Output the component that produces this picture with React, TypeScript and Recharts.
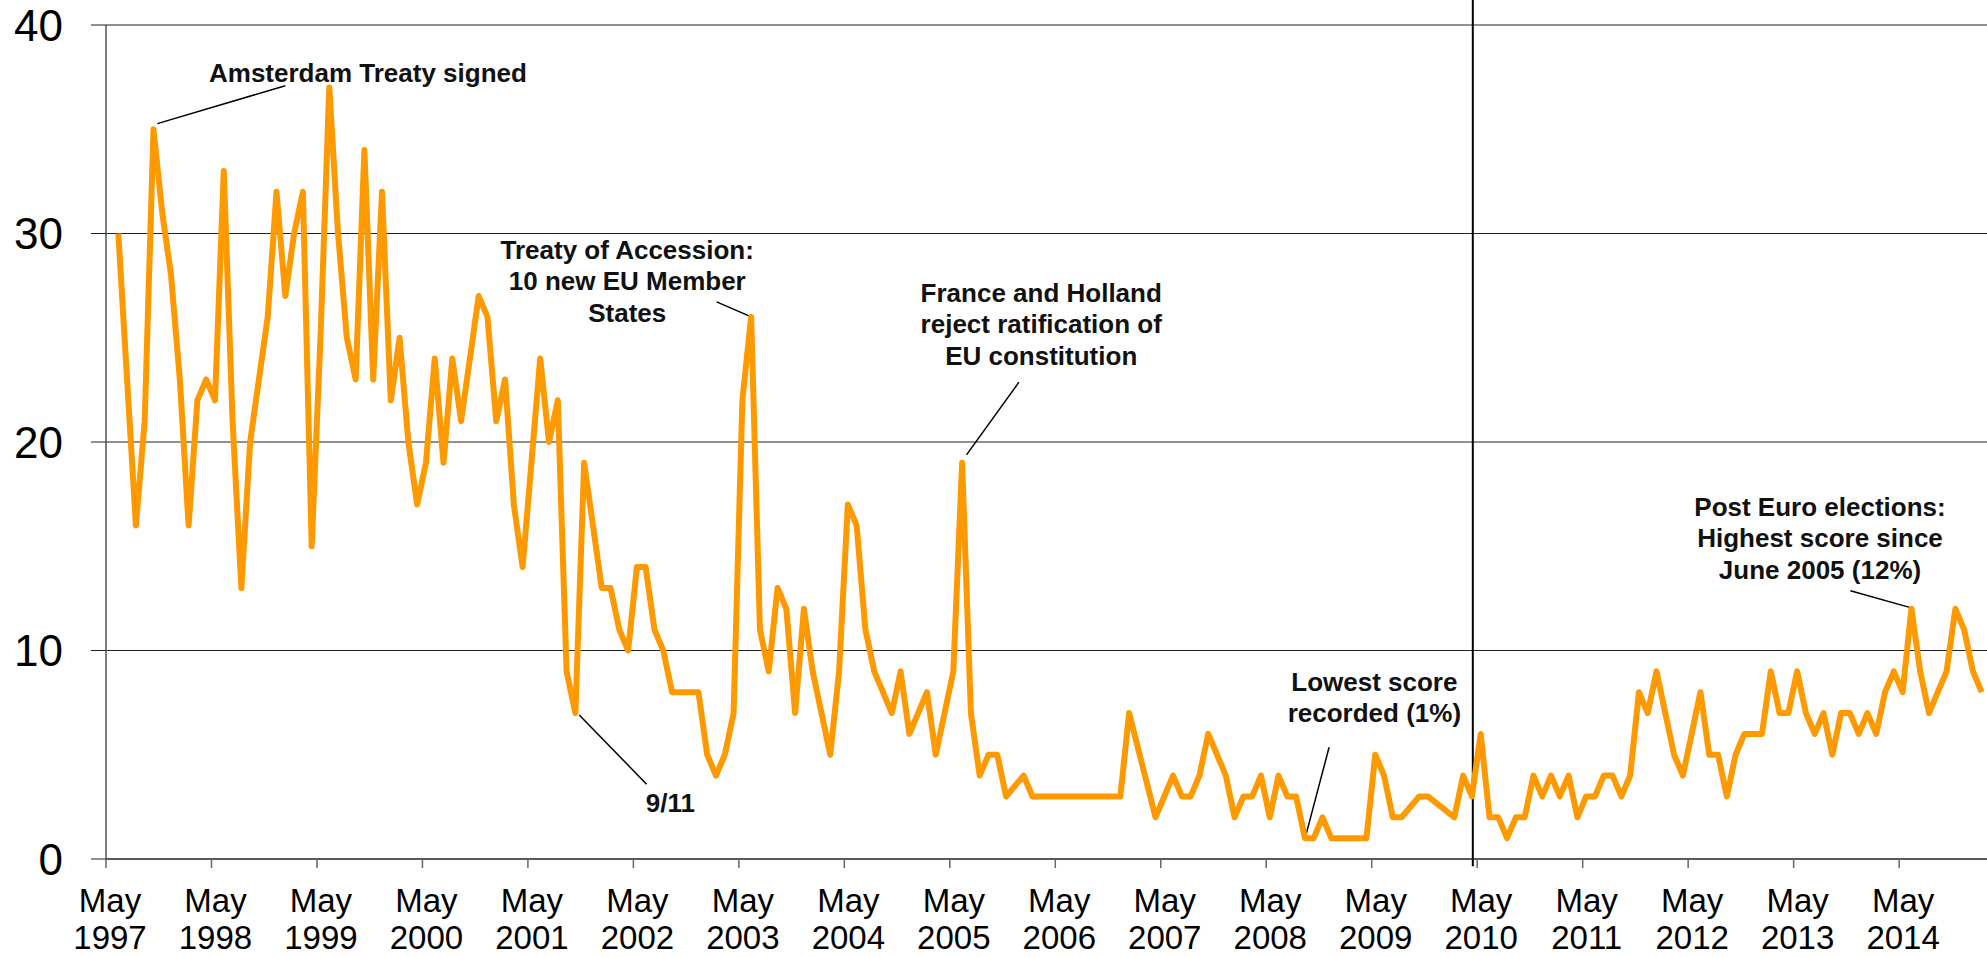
import React from 'react';
import { LineChart, Line, XAxis, YAxis, CartesianGrid, ReferenceLine, ReferenceDot } from 'recharts';

// % naming Europe / the EU as an important issue, one reading a month
// from Jun 1997 to Feb 2015. null = no reading that month, the line joins across.
const SCORES = [
  30, 23, 16, 21, 35, 31, 28, 23, 16, 22, 23, 22, // Jun 97 - May 98
  33, 21, 13, 20, 23, 26, 32, 27, 30, 32, 15, 25, // Jun 98 - May 99
  37, 30, 25, 23, 34, 23, 32, 22, 25, 20, 17, 19, // Jun 99 - May 00
  24, 19, 24, 21, 24, 27, 26, 21, 23, 17, 14, 19, // Jun 00 - May 01
  24, 20, 22, 9, 7, 19, 16, 13, 13, 11, 10, 14, // Jun 01 - May 02
  14, 11, 10, 8, 8, 8, 8, 5, 4, 5, 7, 22, // Jun 02 - May 03
  26, 11, 9, 13, 12, 7, 12, 9, 7, 5, 9, 17, // Jun 03 - May 04
  16, 11, 9, 8, 7, 9, 6, 7, 8, 5, 7, 9, // Jun 04 - May 05
  19, 7, 4, 5, 5, 3, null, 4, 3, 3, 3, 3, // Jun 05 - May 06
  3, 3, 3, 3, 3, 3, 3, 7, null, null, 2, 3, // Jun 06 - May 07
  4, 3, 3, 4, 6, 5, 4, 2, 3, 3, 4, 2, // Jun 07 - May 08
  4, 3, 3, 1, 1, 2, 1, 1, 1, 1, 1, 5, // Jun 08 - May 09
  4, 2, 2, null, 3, 3, null, null, 2, 4, 3, 6, // Jun 09 - May 10
  2, 2, 1, 2, 2, 4, 3, 4, 3, 4, 2, 3, // Jun 10 - May 11
  3, 4, 4, 3, 4, 8, 7, 9, 7, 5, 4, 6, // Jun 11 - May 12
  8, 5, 5, 3, 5, 6, 6, 6, 9, 7, 7, 9, // Jun 12 - May 13
  7, 6, 7, 5, 7, 7, 6, 7, 6, 8, 9, 8, // Jun 13 - May 14
  12, 9, 7, 8, 9, 12, 11, 9, 8, // Jun 14 - Feb 15
];

const TICK_YEARS = [1997, 1998, 1999, 2000, 2001, 2002, 2003, 2004, 2005, 2006, 2007, 2008, 2009, 2010, 2011, 2012, 2013, 2014];
const Y_TICKS = [0, 10, 20, 30, 40];

// x is counted in months from May 1997; fieldwork sits ~mid month
const FIRST_MONTH = 1;
const FIELDWORK = 0.4;
const METHOD_BREAK = 155.5; // between Apr and May 2010

const NOTES = [
  { lines: ['Amsterdam Treaty signed'], m: 29.8, v: 37.27 },
  { lines: ['Treaty of Accession:', '10 new EU Member', 'States'], m: 59.3, v: 28.8 },
  { lines: ['France and Holland', 'reject ratification of', 'EU constitution'], m: 106.4, v: 26.73 },
  { lines: ['9/11'], m: 64.2, v: 2.27 },
  { lines: ['Lowest score', 'recorded (1%)'], m: 144.3, v: 8.08 },
  { lines: ['Post Euro elections:', 'Highest score since', 'June 2005 (12%)'], m: 195.0, v: 16.47 },
];

const LEADERS = [
  [{ x: 5.84, y: 35.27 }, { x: 20.4, y: 37.09 }],
  [{ x: 69.47, y: 26.72 }, { x: 73.48, y: 25.99 }],
  [{ x: 97.9, y: 19.38 }, { x: 103.86, y: 22.87 }],
  [{ x: 53.84, y: 6.91 }, { x: 61.5, y: 3.59 }],
  [{ x: 136.5, y: 1.12 }, { x: 139.15, y: 5.36 }],
  [{ x: 198.46, y: 12.87 }, { x: 205.6, y: 12.02 }],
];

const FONT = '"Liberation Sans", Arial, Helvetica, sans-serif';

const data = SCORES.map((score, i) => ({ m: FIRST_MONTH + i + FIELDWORK, score }));
const xTicks = TICK_YEARS.map((_, i) => i * 12);

const MayTick = (props: any) => {
  const { x, y, payload } = props;
  const year = TICK_YEARS[Math.round(payload.value / 12)];
  const cx = x + 4;
  return (
    <text x={cx} y={y} textAnchor="middle" fontFamily={FONT} fontSize={33} fill="#000">
      <tspan x={cx} dy={42}>May</tspan>
      <tspan x={cx} dy={37}>{year}</tspan>
    </text>
  );
};

const Note = (props: any) => {
  const { cx, cy, lines } = props;
  if (cx == null || cy == null) return null;
  return (
    <text x={cx} y={cy} textAnchor="middle" fontFamily={FONT} fontWeight="bold" fontSize={26} fill="#111">
      {lines.map((l: string, i: number) => (
        <tspan key={i} x={cx} dy={i === 0 ? 0 : 31.5}>{l}</tspan>
      ))}
    </text>
  );
};

export default function App() {
  return (
    <div style={{ position: 'absolute', left: 0, top: 0, width: 1987, height: 957, background: '#fff' }}>
      <LineChart width={1987} height={957} data={data} margin={{ top: 25, right: 0, bottom: 0, left: 0 }}>
        <CartesianGrid horizontal vertical={false} stroke="#222" strokeWidth={1} />
        <XAxis
          dataKey="m"
          type="number"
          domain={[0, 214]}
          ticks={xTicks}
          interval={0}
          height={98}
          tickSize={9}
          tick={<MayTick />}
          axisLine={{ stroke: '#222', strokeWidth: 1 }}
          tickLine={{ stroke: '#666', strokeWidth: 1.5 }}
          allowDataOverflow
        />
        <YAxis
          type="number"
          domain={[0, 40]}
          ticks={Y_TICKS}
          width={106}
          tickSize={15}
          tickMargin={28}
          tick={{ fontFamily: FONT, fontSize: 44, fill: '#000' }}
          axisLine={{ stroke: '#555', strokeWidth: 1.5 }}
          tickLine={{ stroke: '#222', strokeWidth: 1 }}
        />
        <ReferenceLine
          segment={[{ x: METHOD_BREAK, y: -0.35 }, { x: METHOD_BREAK, y: 41.2 }]}
          stroke="#000"
          strokeWidth={2}
          ifOverflow="visible"
        />
        {LEADERS.map((seg, i) => (
          <ReferenceLine key={`lead-${i}`} segment={seg} stroke="#000" strokeWidth={1.5} ifOverflow="visible" />
        ))}
        <Line
          type="linear"
          dataKey="score"
          stroke="#FF9900"
          strokeWidth={6}
          strokeLinejoin="round"
          dot={false}
          connectNulls
          isAnimationActive={false}
        />
        {NOTES.map((n, i) => (
          <ReferenceDot
            key={`note-${i}`}
            x={n.m}
            y={n.v}
            r={0}
            ifOverflow="visible"
            shape={(p: any) => <Note {...p} lines={n.lines} />}
          />
        ))}
      </LineChart>
    </div>
  );
}
